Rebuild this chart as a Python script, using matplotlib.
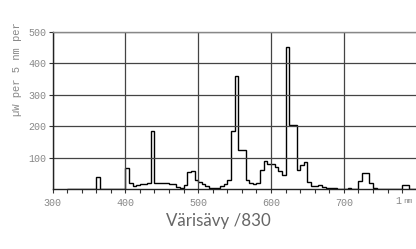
import numpy as np
import matplotlib
matplotlib.use("Agg")
import matplotlib.pyplot as plt
from matplotlib.ticker import MultipleLocator

# spectral power in 5 nm bins (left edge of each bin)
wavelength = np.arange(320, 800, 5)
power = [
    2, 2, 2, 2, 2, 2, 2, 2, 40, 2, 2, 2, 2, 2, 2, 2,            # 320-395
    69, 19, 10, 14, 17, 17, 19, 185, 20, 20, 20, 20,            # 400-455
    17, 17, 8, 5, 15, 54, 57, 30,                               # 460-495
    24, 17, 10, 5, 3, 3, 10, 17, 30, 185, 359, 125,             # 500-555
    125, 30, 19, 17, 19, 61, 91, 80,                            # 560-595
    80, 72, 59, 45, 453, 205, 205, 61, 77, 88, 22, 10,          # 600-655
    10, 15, 8, 3, 3, 3, 1, 1,                                   # 660-695
    1, 5, 1, 1, 25, 51, 51, 20, 4, 1, 1, 1,                     # 700-755
    1, 1, 1, 1, 14, 14, 1, 1,                                   # 760-795
]
x_ticks = [300, 400, 500, 600, 700, 800]
x_labels = ["300", "400", "500", "600", "700", ""]
y_ticks = [100, 200, 300, 400, 500]
title = "Värisävy /830"
ylabel = "µW per 5 nm per"

W, H = 416, 249
fig = plt.figure(figsize=(W / 100, H / 100), dpi=100)
ax = fig.add_axes([52.5 / W, (H - 189.3) / H, (416.7 - 52.5) / W, 157.3 / H])

edges = np.append(wavelength, 800)
ax.stairs(power, edges, color="black", linewidth=1.0, baseline=0)

ax.set_xlim(300, 800)
ax.set_ylim(0, 500)
ax.set_xticks(x_ticks)
ax.set_xticklabels(x_labels)
ax.xaxis.set_minor_locator(MultipleLocator(20))
ax.set_yticks(y_ticks)

mono = "Liberation Mono"
for lab in ax.get_xticklabels() + ax.get_yticklabels():
    lab.set_fontfamily(mono)
    lab.set_fontsize(7.2)
    lab.set_color("#888888")
ax.tick_params(axis="both", which="both", direction="out", length=3,
               width=0.8, color="#333333", pad=3)
ax.tick_params(axis="y", pad=1.5)

ax.grid(True, which="major", color="#444444", linewidth=0.9)
for side in ["top", "right"]:
    ax.spines[side].set_color("#888888")
for side in ["left", "bottom"]:
    ax.spines[side].set_color("#222222")
for sp in ax.spines.values():
    sp.set_linewidth(1.0)

# axis unit at the right end of the x axis
fig.text(395 / W, 1 - 201 / H, "1", fontfamily=mono, fontsize=7.2,
         color="#888888", ha="left", va="center")
fig.text(403 / W, 1 - 201.5 / H, "nm", fontfamily=mono, fontsize=5.6,
         color="#888888", ha="left", va="center")

fig.text(17 / W, 1 - 116 / H, ylabel, fontfamily=mono, fontsize=7.6,
         color="#888888", rotation=90, ha="center", va="bottom")

fig.text(218 / W, 1 - 221 / H, title, fontfamily="Lato", fontweight="normal",
         fontsize=12.2, color="#666666", ha="center", va="center")

fig.savefig("out.png", dpi=100)
